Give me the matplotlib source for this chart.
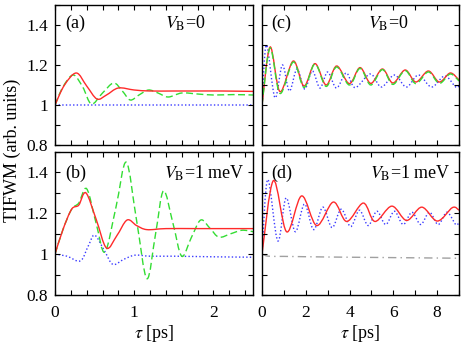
import numpy as np
import matplotlib
matplotlib.use("Agg")
from matplotlib import pyplot as plt
from matplotlib.path import Path
from matplotlib.patches import PathPatch
from matplotlib.ticker import MultipleLocator

plt.rcParams['font.family'] = ['Liberation Serif', 'DejaVu Serif']
plt.rcParams['mathtext.fontset'] = 'stix'

# panel (a): V_B = 0, short times
a_red_t = [0, 0.12, 0.27, 0.4, 0.53, 0.65, 0.8, 1.0, 1.2, 1.5, 1.8, 2.1, 2.5]
a_red_v = [1.0, 1.10, 1.16, 1.095, 1.03, 1.05, 1.085, 1.075, 1.07, 1.07, 1.07, 1.07, 1.068]
a_grn_t = [0, 0.1, 0.23, 0.35, 0.46, 0.6, 0.74, 0.85, 0.95, 1.06, 1.18, 1.3, 1.43,
           1.6, 1.8, 2.0, 2.25, 2.5]
a_grn_v = [1.0, 1.09, 1.15, 1.09, 1.005, 1.06, 1.11, 1.07, 1.025, 1.05, 1.075, 1.06, 1.04,
           1.06, 1.055, 1.05, 1.052, 1.05]
a_blu_t = [0, 0.5, 1.0, 1.5, 2.0, 2.5]
a_blu_v = [1.0, 1.0, 1.0, 1.0, 1.0, 1.0]

# panel (b): V_B = 1 meV, short times
b_red_t = [0, 0.1, 0.21, 0.3, 0.39, 0.52, 0.65, 0.78, 0.91, 1.03, 1.16, 1.4, 1.8, 2.2, 2.5]
b_red_v = [1.0, 1.12, 1.22, 1.24, 1.30, 1.17, 1.03, 1.09, 1.167, 1.14, 1.12, 1.125, 1.125,
           1.125, 1.125]
b_grn_t = [0, 0.1, 0.21, 0.3, 0.4, 0.52, 0.63, 0.77, 0.9, 1.03, 1.16, 1.27, 1.37, 1.49,
           1.6, 1.72, 1.84, 1.96, 2.07, 2.22, 2.36, 2.5]
b_grn_v = [1.0, 1.12, 1.22, 1.25, 1.32, 1.15, 1.01, 1.23, 1.45, 1.165, 0.88, 1.1, 1.31,
           1.15, 0.99, 1.08, 1.167, 1.125, 1.083, 1.10, 1.117, 1.11]
b_blu_t = [0, 0.15, 0.32, 0.42, 0.5, 0.62, 0.73, 0.87, 1.01, 1.2, 1.5, 2.0, 2.5]
b_blu_v = [1.0, 0.99, 0.967, 1.04, 1.093, 1.02, 0.95, 0.975, 0.995, 0.99, 0.99, 0.987, 0.985]

# panel (c): V_B = 0, long times
c_t = [0, 0.37, 0.82, 1.43, 1.92, 2.42, 2.93, 3.41, 3.99, 4.48, 4.97, 5.5, 5.98, 6.54,
       7.03, 7.6, 8.1, 8.6, 9.0]
c_red_v = [1.0, 1.29, 1.067, 1.22, 1.095, 1.207, 1.10, 1.195, 1.107, 1.187, 1.108, 1.18,
           1.11, 1.175, 1.115, 1.17, 1.115, 1.16, 1.125]
c_grn_v = [1.0, 1.285, 1.058, 1.215, 1.088, 1.205, 1.093, 1.19, 1.1, 1.183, 1.1, 1.177,
           1.103, 1.172, 1.107, 1.165, 1.108, 1.155, 1.12]
c_blu_t = [0, 0.2, 0.59, 0.93, 1.25, 1.6, 1.95, 2.3, 2.65, 3.0, 3.4, 3.85, 4.25, 4.95,
           5.45, 6.05, 6.6, 7.15, 7.75, 8.35, 8.85, 9.0]
c_blu_v = [1.0, 1.30, 1.037, 1.20, 1.07, 1.18, 1.08, 1.17, 1.085, 1.165, 1.085, 1.16,
           1.087, 1.155, 1.09, 1.15, 1.09, 1.15, 1.09, 1.145, 1.09, 1.095]

# panel (d): V_B = 1 meV, long times
d_red_t = [0, 0.52, 1.13, 1.81, 2.5, 3.26, 3.87, 4.63, 5.16, 5.93, 6.61, 7.3, 8.01, 8.7, 9.0]
d_red_v = [1.0, 1.36, 1.109, 1.285, 1.14, 1.255, 1.16, 1.25, 1.16, 1.235, 1.165, 1.23,
           1.162, 1.228, 1.215]
d_blu_t = [0, 0.26, 0.72, 1.1, 1.52, 1.94, 2.36, 2.78, 3.2, 3.62, 4.05, 4.45, 4.85, 5.25,
           5.65, 6.05, 6.45, 6.85, 7.25, 7.65, 8.05, 8.45, 8.85, 9.0]
d_blu_v = [1.0, 1.365, 1.065, 1.275, 1.11, 1.245, 1.12, 1.23, 1.13, 1.22, 1.135, 1.215,
           1.14, 1.21, 1.145, 1.21, 1.145, 1.205, 1.145, 1.205, 1.145, 1.205, 1.145, 1.155]
d_gry_t = [0, 0.3, 1, 3, 5, 7, 9]
d_gry_v = [1.0, 0.99, 0.989, 0.986, 0.984, 0.982, 0.98]

RED = '#ff2a2a'
GRN = '#33dd33'
BLU = '#3a3aff'
GRY = '#a0a0a0'


def smooth_curve(ax, t, v, color, ls, lw=1.0):
    # catmull-rom through the read points, drawn as bezier segments
    p = np.column_stack([t, v]).astype(float)
    n = len(p)
    verts = [p[0]]
    codes = [Path.MOVETO]
    for i in range(n - 1):
        p0 = p[max(i - 1, 0)]
        p1 = p[i]
        p2 = p[i + 1]
        p3 = p[min(i + 2, n - 1)]
        verts += [p1 + (p2 - p0) / 6, p2 - (p3 - p1) / 6, p2]
        codes += [Path.CURVE4] * 3
    patch = PathPatch(Path(verts, codes), fill=False, edgecolor=color,
                      lw=lw, linestyle=ls, capstyle='butt')
    ax.add_patch(patch)


def style_axes(ax, xmax, xmajor, xminor, show_x, show_y):
    ax.set_xlim(0, xmax)
    ax.set_ylim(0.8, 1.5)
    ax.xaxis.set_major_locator(MultipleLocator(xmajor))
    ax.xaxis.set_minor_locator(MultipleLocator(xminor))
    ax.yaxis.set_major_locator(MultipleLocator(0.2))
    ax.yaxis.set_minor_locator(MultipleLocator(0.1))
    ax.tick_params(which='both', direction='in', top=True, right=True,
                   length=3.5, width=0.8, labelsize=12.5, pad=5)
    ax.tick_params(axis='x', pad=7)
    ax.tick_params(labelbottom=show_x, labelleft=show_y)
    ax.set_yticks([0.8, 1.0, 1.2, 1.4])
    ax.set_yticklabels(['0.8', '1', '1.2', '1.4'])
    for s in ax.spines.values():
        s.set_linewidth(1.0)


dash = (0, (5, 2.5))
dot = (0, (1, 1.6))
dashdot = (0, (6, 3, 1, 3))

fig = plt.figure(figsize=(4.63, 3.48), dpi=100)
W = 463.0
H = 348.0
ax_a = fig.add_axes([55 / W, 1 - 145 / H, 198 / W, 140 / H])
ax_b = fig.add_axes([55 / W, 1 - 295 / H, 198 / W, 143 / H])
ax_c = fig.add_axes([262 / W, 1 - 145 / H, 197 / W, 140 / H])
ax_d = fig.add_axes([262 / W, 1 - 295 / H, 197 / W, 143 / H])

style_axes(ax_a, 2.5, 1, 0.2, False, True)
style_axes(ax_b, 2.5, 1, 0.2, True, True)
style_axes(ax_c, 9, 2, 1, False, False)
style_axes(ax_d, 9, 2, 1, True, False)
ax_b.set_xticks([0, 1, 2])
ax_b.set_xticklabels(['0', '1', '2'])

smooth_curve(ax_a, a_blu_t, a_blu_v, BLU, dot)
smooth_curve(ax_a, a_grn_t, a_grn_v, GRN, dash)
smooth_curve(ax_a, a_red_t, a_red_v, RED, '-')

smooth_curve(ax_b, b_blu_t, b_blu_v, BLU, dot)
smooth_curve(ax_b, b_grn_t, b_grn_v, GRN, dash)
smooth_curve(ax_b, b_red_t, b_red_v, RED, '-')

smooth_curve(ax_c, c_blu_t, c_blu_v, BLU, dot)
smooth_curve(ax_c, c_t, c_red_v, RED, '-')
smooth_curve(ax_c, c_t, c_grn_v, GRN, dash)

smooth_curve(ax_d, d_gry_t, d_gry_v, GRY, dashdot)
smooth_curve(ax_d, d_blu_t, d_blu_v, BLU, dot)
smooth_curve(ax_d, d_red_t, d_red_v, RED, '-')

fs = 13
ax_a.text(0.13, 1.41, '(a)', fontsize=fs, va='center')
ax_a.text(1.39, 1.41, r'$V_\mathrm{B}$=0', fontsize=fs, va='center')
ax_b.text(0.13, 1.395, '(b)', fontsize=fs, va='center')
ax_b.text(2.4, 1.395, r'$V_\mathrm{B}$=1 meV', fontsize=fs, va='center', ha='right')
ax_c.text(0.44, 1.41, '(c)', fontsize=fs, va='center')
ax_c.text(4.85, 1.41, r'$V_\mathrm{B}$=0', fontsize=fs, va='center')
ax_d.text(0.43, 1.395, '(d)', fontsize=fs, va='center')
ax_d.text(8.6, 1.395, r'$V_\mathrm{B}$=1 meV', fontsize=fs, va='center', ha='right')

ax_b.set_xlabel(r'$\tau$ [ps]', fontsize=13, labelpad=2)
ax_d.set_xlabel(r'$\tau$ [ps]', fontsize=13, labelpad=2)
fig.text(12 / W, 1 - 150 / H, 'TIFWM (arb. units)', rotation=90, fontsize=13,
         ha='center', va='center')

fig.savefig('out.png', dpi=100)
